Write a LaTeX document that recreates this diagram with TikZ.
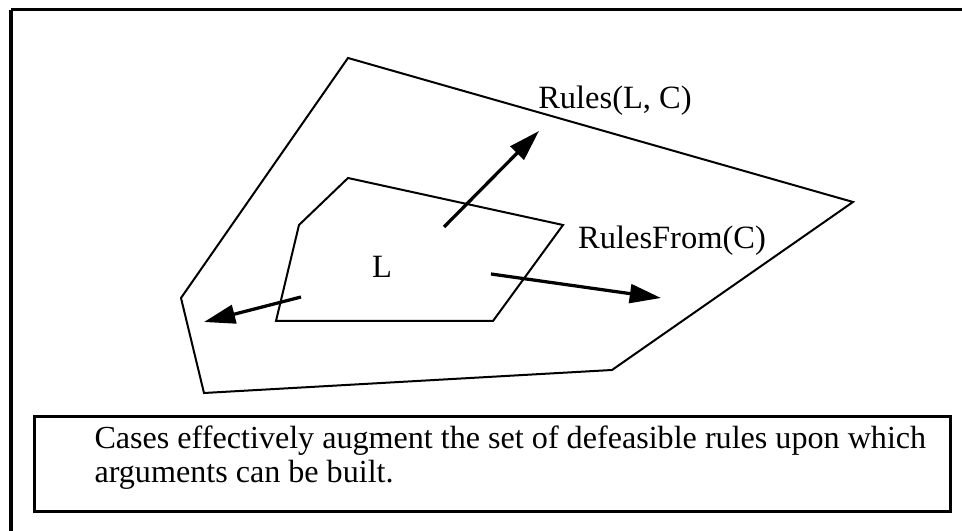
\documentclass[tikz,border=0pt]{standalone}
\usepackage{fontspec}
\setmainfont{Liberation Serif}
\usetikzlibrary{arrows.meta}

\tikzset{
    menge/.style={line width=0.8pt, line join=miter},
    pfeil/.style={line width=1.3pt, -{Triangle[length=12.5pt,width=7.5pt]}},
    rahmen/.style={line width=1.2pt},
    schrift/.style={font=\fontsize{13}{13.6}\selectfont},
}

\begin{document}
\begin{tikzpicture}[x=0.4pt, y=-0.4pt]
            \useasboundingbox (0,0) rectangle (962,531);
            \draw[rahmen] (11,10) -- (975,10);
            \draw[rahmen] (11,10) -- (11,545);

            \draw[menge] (348,58) -- (853,202) -- (612,370) -- (204,393) -- (181,298) -- cycle;
            \draw[menge] (348,178) -- (563,225) -- (493,321) -- (276,321) -- (299,225) -- cycle;

            \draw[pfeil] (444,227) -- (539,131);
            \draw[pfeil] (491,274) -- (661,298);
            \draw[pfeil] (301,297) -- (204,322);

            % Beschriftung
            \node[schrift] (regeln) at (615,101) {Rules(L, C)};
            \node[schrift] (regelnaus) at (672,241) {RulesFrom(C)};
            \node[schrift] (lmenge) at (382,267) {L};

            \draw[rahmen] (34,417) rectangle (950,512);
            \node[font=\fontsize{12.85}{13.6}\selectfont, anchor=north west, inner sep=0pt, align=left] (legende) at (94,425)
                {Cases effectively augment the set of defeasible rules upon which\\
                 arguments can be built.};
        \end{tikzpicture}
\end{document}
